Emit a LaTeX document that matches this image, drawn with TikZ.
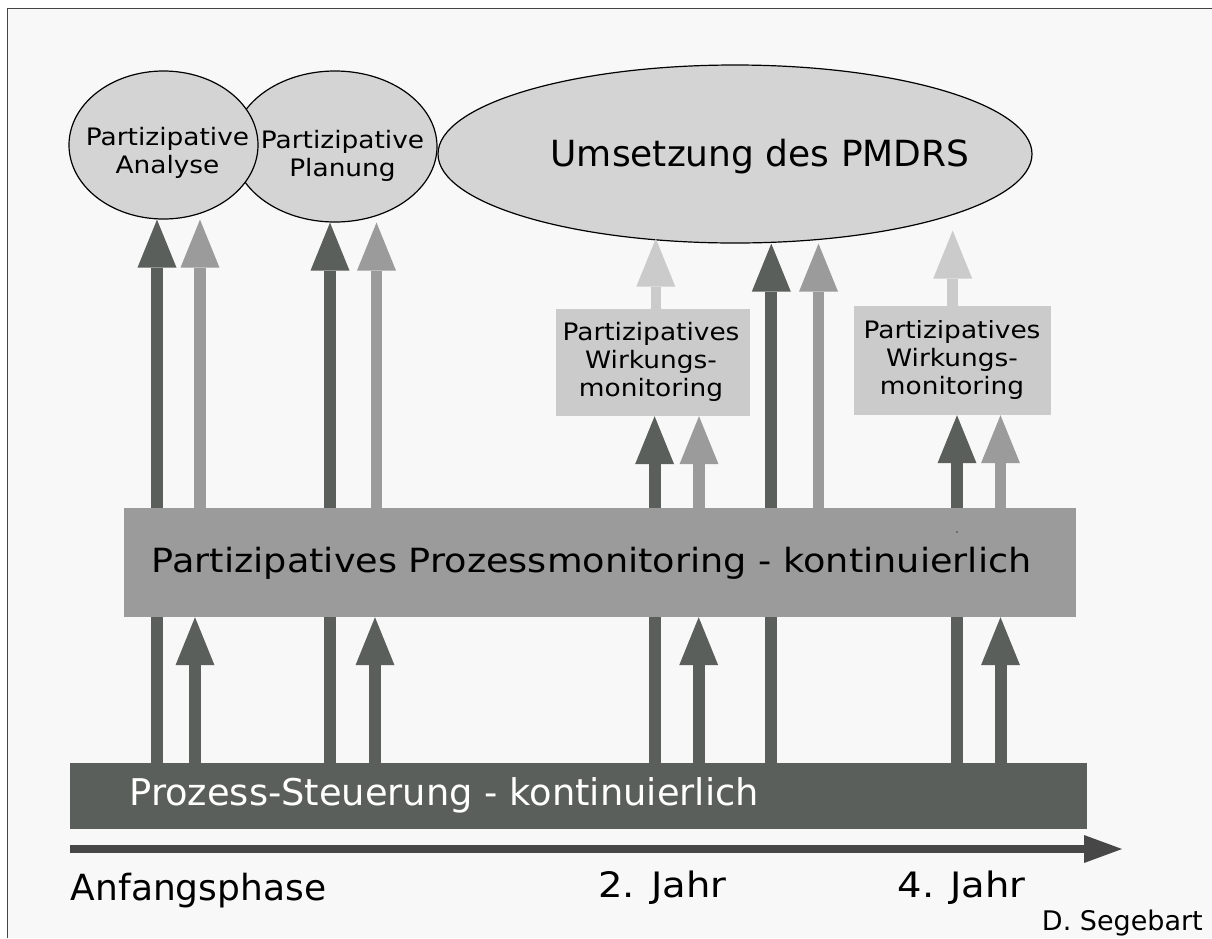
\documentclass[tikz,border=0pt]{standalone}
\usepackage{fontspec}
\setmainfont{DejaVu Sans}
\newfontfamily\widefont{DejaVu Sans}[FakeStretch=1.10]
\usetikzlibrary{arrows.meta,shapes.geometric,calc}

\definecolor{paper}{HTML}{F8F8F8}
\definecolor{framec}{HTML}{444444}
\definecolor{darkc}{HTML}{5A5F5B}
\definecolor{midc}{HTML}{9B9B9B}
\definecolor{lightc}{HTML}{CBCBCB}
\definecolor{ellc}{HTML}{D4D4D4}
\definecolor{axisc}{HTML}{474747}

\pgfdeclarelayer{back}
\pgfdeclarelayer{under}
\pgfsetlayers{back,under,main}

\begin{document}
\begin{tikzpicture}[x=1pt,y=-1pt,
  ell/.style={ellipse,draw=black,line width=1.2pt,fill=ellc,inner sep=0pt},
  flatbox/.style={rectangle,inner sep=0pt,draw=none},
  tip/.style={-{Triangle[width=39pt,length=48pt,line width=0pt]}},
  darkarr/.style={tip,draw=darkc,line width=12pt},
  grayarr/.style={tip,draw=midc,line width=11.5pt},
  lightarr/.style={tip,draw=lightc,line width=10.5pt},
  wtext/.style={font=\widefont\fontsize{24}{28}\selectfont,align=center,inner sep=0pt,anchor=base},
]
\useasboundingbox (0,0) rectangle (1212,938);

% paper and frame
\begin{pgfonlayer}{back}
  \fill[white] (0,0) rectangle (1212,938);
  \fill[paper] (7.5,8.5) rectangle (1212,938);
  \draw[framec,line width=1.5pt] (7.5,938) -- (7.5,8.5) -- (1212,8.5);
\end{pgfonlayer}

% phases (the base anchor of a multi-line label sits on its last line)
\node[ell,minimum width=204pt,minimum height=151pt] (plan) at (335,146.5) {};
\node[ell,minimum width=189pt,minimum height=148pt] (ana) at (163.5,145) {};
\node[ell,minimum width=594pt,minimum height=178pt] (ums) at (735,154) {};

\node[wtext] (anaT) at (167.5,173.3) {Partizipative\\Analyse};
\node[wtext] (planT) at (342.5,176.7) {Partizipative\\Planung};
\node[font=\fontsize{36}{40}\selectfont,inner sep=0pt,anchor=base] (umsT) at (760,166) {Umsetzung des PMDRS};

% monitoring boxes
\node[flatbox,fill=lightc,minimum width=194pt,minimum height=107pt] (wm1) at (652.5,362.5) {};
\node[flatbox,fill=lightc,minimum width=197pt,minimum height=109pt] (wm2) at (952.5,360.5) {};
\node[wtext] (wm1T) at (651,396) {Partizipatives\\Wirkungs-\\monitoring};
\begin{scope}
  \clip (854,320) rectangle (1051,415);
  \node[wtext] (wm2T) at (952,394) {Partizipatives\\Wirkungs-\\monitoring};
\end{scope}

\node[flatbox,fill=midc,minimum width=952pt,minimum height=109pt] (proc) at (600,562.5) {};
\node[font=\widefont\fontsize{33.3}{36}\selectfont,inner sep=0pt,anchor=base west] (procT) at (151.7,572.7) {Partizipatives Prozessmonitoring - kontinuierlich};
\fill[darkc] (957,532) circle (1.1);

\node[flatbox,fill=darkc,minimum width=1017pt,minimum height=66pt] (steer) at (578.5,796) {};
\node[font=\fontsize{36.8}{40}\selectfont,text=white,inner sep=0pt,anchor=base west] (steerT) at (129.3,805) {Prozess-Steuerung - kontinuierlich};

% long control arrows passing behind the process monitoring band
\begin{pgfonlayer}{under}
  \draw[darkarr] (steer.north -| 157,0) -- (ana.south -| 157,0);
  \draw[darkarr] (steer.north -| 330,0) -- (plan.south -| 330,0);
  \draw[darkarr] (steer.north -| 654.6,0) -- (wm1.south -| 654.6,0);
  \draw[darkarr] (steer.north -| 771.3,0) -- (ums.south -| 771.3,0);
  \draw[darkarr] (steer.north -| 957,0) -- (wm2.south -| 957,0);
\end{pgfonlayer}

% control into process monitoring
\draw[darkarr] (steer.north -| 195,0) -- (proc.south -| 195,0);
\draw[darkarr] (steer.north -| 375,0) -- (proc.south -| 375,0);
\draw[darkarr] (steer.north -| 698.7,0) -- (proc.south -| 698.7,0);
\draw[darkarr] (steer.north -| 1000.5,0) -- (proc.south -| 1000.5,0);

% process monitoring into the phases
\draw[grayarr] (proc.north -| 200,0) -- (ana.south -| 200,0);
\draw[grayarr] (proc.north -| 376.5,0) -- (plan.south -| 376.5,0);
\draw[grayarr] (proc.north -| 699,0) -- (wm1.south -| 699,0);
\draw[grayarr] (proc.north -| 818.5,0) -- (ums.south -| 818.5,0);
\draw[grayarr] (proc.north -| 1000.5,0) -- (wm2.south -| 1000.5,0);

% impact monitoring into implementation
\draw[lightarr] (wm1.north -| 655.8,0) -- ($(ums.south -| 655.8,0)+(0,-5)$);
\draw[lightarr] (wm2.north -| 952.7,0) -- ($(ums.south -| 952.7,0)+(0,-13)$);

% time axis
\coordinate (axS) at (70,849);
\coordinate (axE) at (1122,849);
\draw[axisc,line width=8pt,-{Triangle[width=28pt,length=38pt,line width=0pt]}] (axS) -- (axE);

\node[font=\fontsize{36}{40}\selectfont,inner sep=0pt,anchor=base west] (anf) at (70.7,900) {Anfangsphase};
\node[font=\widefont\fontsize{35}{40}\selectfont,inner sep=0pt,anchor=base west] (j2) at (598,897) {2. Jahr};
\node[font=\widefont\fontsize{35}{40}\selectfont,inner sep=0pt,anchor=base west] (j4) at (897.4,897) {4. Jahr};
\node[font=\fontsize{27}{30}\selectfont,inner sep=0pt,anchor=base east] (seg) at (1203,930) {D. Segebart};
\end{tikzpicture}
\end{document}
